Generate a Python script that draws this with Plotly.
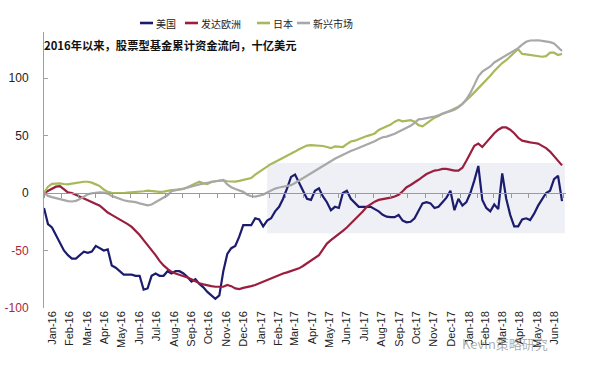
import pandas as pd
import plotly.graph_objects as go

# ---------------- data (billion USD, cumulative equity fund flows since 2016) ----------------
START_DATE = "2016-01-01"
N_WEEKS = 131
dates = pd.date_range(START_DATE, periods=N_WEEKS, freq="7D")

us = [-13, -27, -30, -37, -44, -50, -54, -57, -57, -54, -51, -52, -51, -46, -48, -50, -49, -63, -65, -68,
      -71, -71, -71, -72, -72, -84, -83, -72, -70, -72, -72, -68, -70, -68, -68, -70, -73, -77, -75, -79,
      -82, -86, -89, -92, -89, -68, -53, -48, -46, -38, -28, -28, -28, -22, -23, -29, -24, -22, -16, -12,
      -5, 4, 14, 16, 9, 2, -5, -6, 2, 4, -3, -8, -15, -12, -13, 0, 2, -5, -9, -12,
      -12, -12, -12, -14, -16, -19, -20.6, -21, -21, -19, -24, -25.5, -25, -22, -15, -9, -8, -9, -13, -12,
      -8, -4, 2, -15, -5, -11, -8, 0, 11, 23.5, -6, -13, -16, -10, -14, 17, -5, -19, -29, -29,
      -23, -22, -23.5, -18, -11, -5, 0, 2, 12, 15, -7]

europe = [0, 2, 4, 5.5, 6, 3, 0.5, 0, -1.5, -3, -5, -6.5, -8, -9.5, -11, -14, -17, -19, -21, -22.5,
          -24.5, -27, -29.5, -33, -36.5, -41, -45, -49.5, -54, -59, -63, -66, -68.5, -70, -71, -72, -73.5, -75, -77, -78.5,
          -79.5, -80.5, -81, -81.5, -81.5, -81.5, -80, -81, -83, -83.5, -82.5, -82, -81, -80, -78.5, -77, -75.5, -74, -72.5, -71,
          -70, -69, -68, -67, -65.5, -63.5, -61, -59, -56.5, -54, -49, -44, -41, -38.5, -36, -33, -30, -26.5, -23.5, -19.5,
          -16, -12, -9.5, -7.5, -6, -5.5, -5, -4, -3, -1.5, 1.5, 5, 7, 9, 11.5, 14, 16.5, 18, 19.5, 20,
          21, 21, 20, 19.5, 19.5, 22, 28, 35, 41, 43, 40, 44, 48.5, 52, 55, 57, 57, 55, 52, 48,
          45.5, 44.5, 44, 43.5, 43, 41, 39, 36, 32, 28, 24]

japan = [0, 5.5, 8, 8.4, 8.4, 7.8, 7.5, 8.2, 8.8, 9.3, 9.8, 9.8, 9, 7.5, 6, 3, 1, 0.2, 0, 0,
         0, 0.3, 0.5, 0.8, 1, 1.5, 2, 1.5, 1, 1, 1.2, 2, 2.5, 2.8, 3, 3.5, 5, 6.8, 8.5, 9.9,
         8.5, 7.8, 9.8, 10, 10.5, 11, 10.2, 9.9, 9.9, 10.5, 11.3, 12, 13, 16, 18.5, 21, 23.5, 25.3, 27, 28.7,
         30.5, 32.2, 34, 36, 38, 39.8, 41.2, 41.7, 41.5, 41, 40.9, 40, 39, 40.5, 40.5, 40, 42.5, 44.8, 45.5, 47,
         48, 49.5, 50.5, 51.8, 54.8, 56.5, 58, 59.5, 62, 63.5, 62.3, 62.5, 63.3, 62, 59, 58, 60.5, 63, 65.5, 67,
         69, 70, 71.5, 73, 75, 77.5, 80.5, 84, 87.5, 91, 94.5, 98, 102, 106, 110, 113, 115.5, 119, 122, 125,
         121, 120.5, 120, 120, 119.5, 118.5, 119, 122, 122, 120, 121]

emerging = [0, -2.5, -3.6, -4.5, -5.3, -6.2, -7, -7.4, -6.8, -5.3, -3.2, -1.2, -0.2, 0.3, 0.6, 0.3, -0.5, -2.5, -4, -5.5,
            -6.3, -7, -7.3, -8, -9, -10, -10.8, -10, -8, -6, -4.2, -2, 1.5, 2.5, 3.2, 3.8, 4.5, 5.3, 6.5, 7.5,
            8, 8.8, 9.5, 10.2, 11, 11.3, 7.5, 5, 3.4, 2.2, 1, -1.5, -2.8, -3.2, -2.5, -1.5, 0.5, 2.3, 3.8, 4.8,
            5.6, 6.1, 6.8, 8.7, 10.8, 13.2, 15.5, 17.5, 19.6, 21.5, 23.2, 26, 28, 29.8, 31.5, 33.3, 35, 36.5, 37.8, 39.2,
            40.5, 42, 43.5, 45, 47, 48.5, 49, 50, 51.5, 53.3, 55, 56.8, 58.4, 61, 64, 64.5, 65, 65.5, 66.5, 67.5,
            69, 70.3, 71.2, 72.5, 74.5, 77.5, 81.5, 87, 94, 101.5, 105.5, 107.5, 110, 113.5, 115.5, 117.5, 120, 122, 123.5, 126,
            129, 131.5, 132.6, 133, 132.8, 132.3, 131.8, 131.2, 130, 127, 123.5]

series_names = ["美国", "发达欧洲", "日本", "新兴市场"]
series_colors = ["#1C1C6E", "#9A1E3E", "#A8B85A", "#A8A8A8"]
series_values = [us, europe, japan, emerging]

y_tick_vals = [-100, -50, 0, 50, 100]
y_tick_text = ['<span style="color:#A8283C">-100</span>', '<span style="color:#A8283C">-50</span>',
               "0", "50", "100"]

title_text = "2016年以来，股票型基金累计资金流向，十亿美元"
watermark_text = "Kevin策略研究"

X_RANGE = ["2016-01-01", "2018-07-06"]
Y_RANGE = [-100, 140]
SHADE_X = ["2017-01-27", "2018-07-04"]
SHADE_Y = [-35, 26]

# layout geometry (page px)
W, H = 612, 375
M_L, M_R, M_T, M_B = 44, 46, 32, 67
PLOT_W = W - M_L - M_R
PLOT_H = H - M_T - M_B
LEGEND_PX = [140, 185, 257, 297]      # left edge of each legend key
LEGEND_Y_PX = 23


def px_to_paper_x(px):
    return (px - M_L) / PLOT_W


def px_to_paper_y(py):
    return 1 - (py - M_T) / PLOT_H


# ---------------- figure ----------------
fig = go.Figure()

for name, vals, col in zip(series_names, series_values, series_colors):
    fig.add_trace(go.Scatter(x=dates, y=vals, name=name, mode="lines",
                             line=dict(color=col, width=2.2), hoverinfo="skip",
                             showlegend=False))

# invisible trace to host the zero-crossing axis
fig.add_trace(go.Scatter(x=[dates[0]], y=[None], xaxis="x2", showlegend=False,
                         mode="lines", hoverinfo="skip"))

fig.add_shape(type="rect", xref="x", yref="y", x0=SHADE_X[0], x1=SHADE_X[1],
              y0=SHADE_Y[0], y1=SHADE_Y[1], fillcolor="#EEF0F5", line=dict(width=0),
              layer="below")

# compact legend (key line + label)
ly = px_to_paper_y(LEGEND_Y_PX)
for name, col, lx in zip(series_names, series_colors, LEGEND_PX):
    fig.add_shape(type="line", xref="paper", yref="paper",
                  x0=px_to_paper_x(lx), x1=px_to_paper_x(lx + 13), y0=ly, y1=ly,
                  line=dict(color=col, width=2.6))
    fig.add_annotation(text=name, xref="paper", yref="paper", x=px_to_paper_x(lx + 14), y=ly,
                       xanchor="left", yanchor="middle", showarrow=False,
                       font=dict(family="Noto Sans CJK SC", size=10, color="#222222"))

zero_pos = (0 - Y_RANGE[0]) / (Y_RANGE[1] - Y_RANGE[0])

fig.update_layout(
    width=W, height=H,
    margin=dict(l=M_L, r=M_R, t=M_T, b=M_B, autoexpand=False),
    paper_bgcolor="white", plot_bgcolor="white",
    font=dict(family="Liberation Sans, Arial, sans-serif", color="#222222"),
    showlegend=False,
    xaxis=dict(type="date", range=X_RANGE, showline=False, showgrid=False, zeroline=False,
               ticks="", tickformat="%b-%y", dtick="M1", tick0="2016-01-01",
               ticklabelmode="period", tickangle=-90, automargin=False,
               tickfont=dict(size=11, color="#222222", family="Liberation Sans")),
    xaxis2=dict(type="date", range=X_RANGE, overlaying="x", anchor="free", position=zero_pos,
                showline=True, linecolor="#9A9A9A", linewidth=1, showgrid=False, zeroline=False,
                ticks="outside", ticklen=4, tickcolor="#9A9A9A", dtick="M1", tick0="2016-01-01",
                showticklabels=False, automargin=False),
    yaxis=dict(range=Y_RANGE, showline=True, linecolor="#A0A0A0", linewidth=1,
               showgrid=False, zeroline=False, ticks="inside", ticklen=4, tickcolor="#A0A0A0",
               tickvals=y_tick_vals, ticktext=y_tick_text, ticklabelstandoff=12, automargin=False,
               tickfont=dict(size=12, color="#222222", family="Liberation Sans")),
)

fig.add_annotation(text="<b>" + title_text + "</b>", xref="paper", yref="paper",
                   x=px_to_paper_x(42), y=px_to_paper_y(45), xanchor="left", yanchor="middle",
                   showarrow=False,
                   font=dict(family="Noto Sans CJK SC", size=11.3, color="#111111"))

fig.add_annotation(text=watermark_text, xref="paper", yref="paper",
                   x=px_to_paper_x(550), y=px_to_paper_y(343), xanchor="right", yanchor="middle",
                   showarrow=False,
                   font=dict(family="Noto Sans CJK SC", size=13, color="rgba(140,140,140,0.7)"))

fig.write_html("out.html", config={"displayModeBar": False},
               post_script="document.body.style.margin='0';")
